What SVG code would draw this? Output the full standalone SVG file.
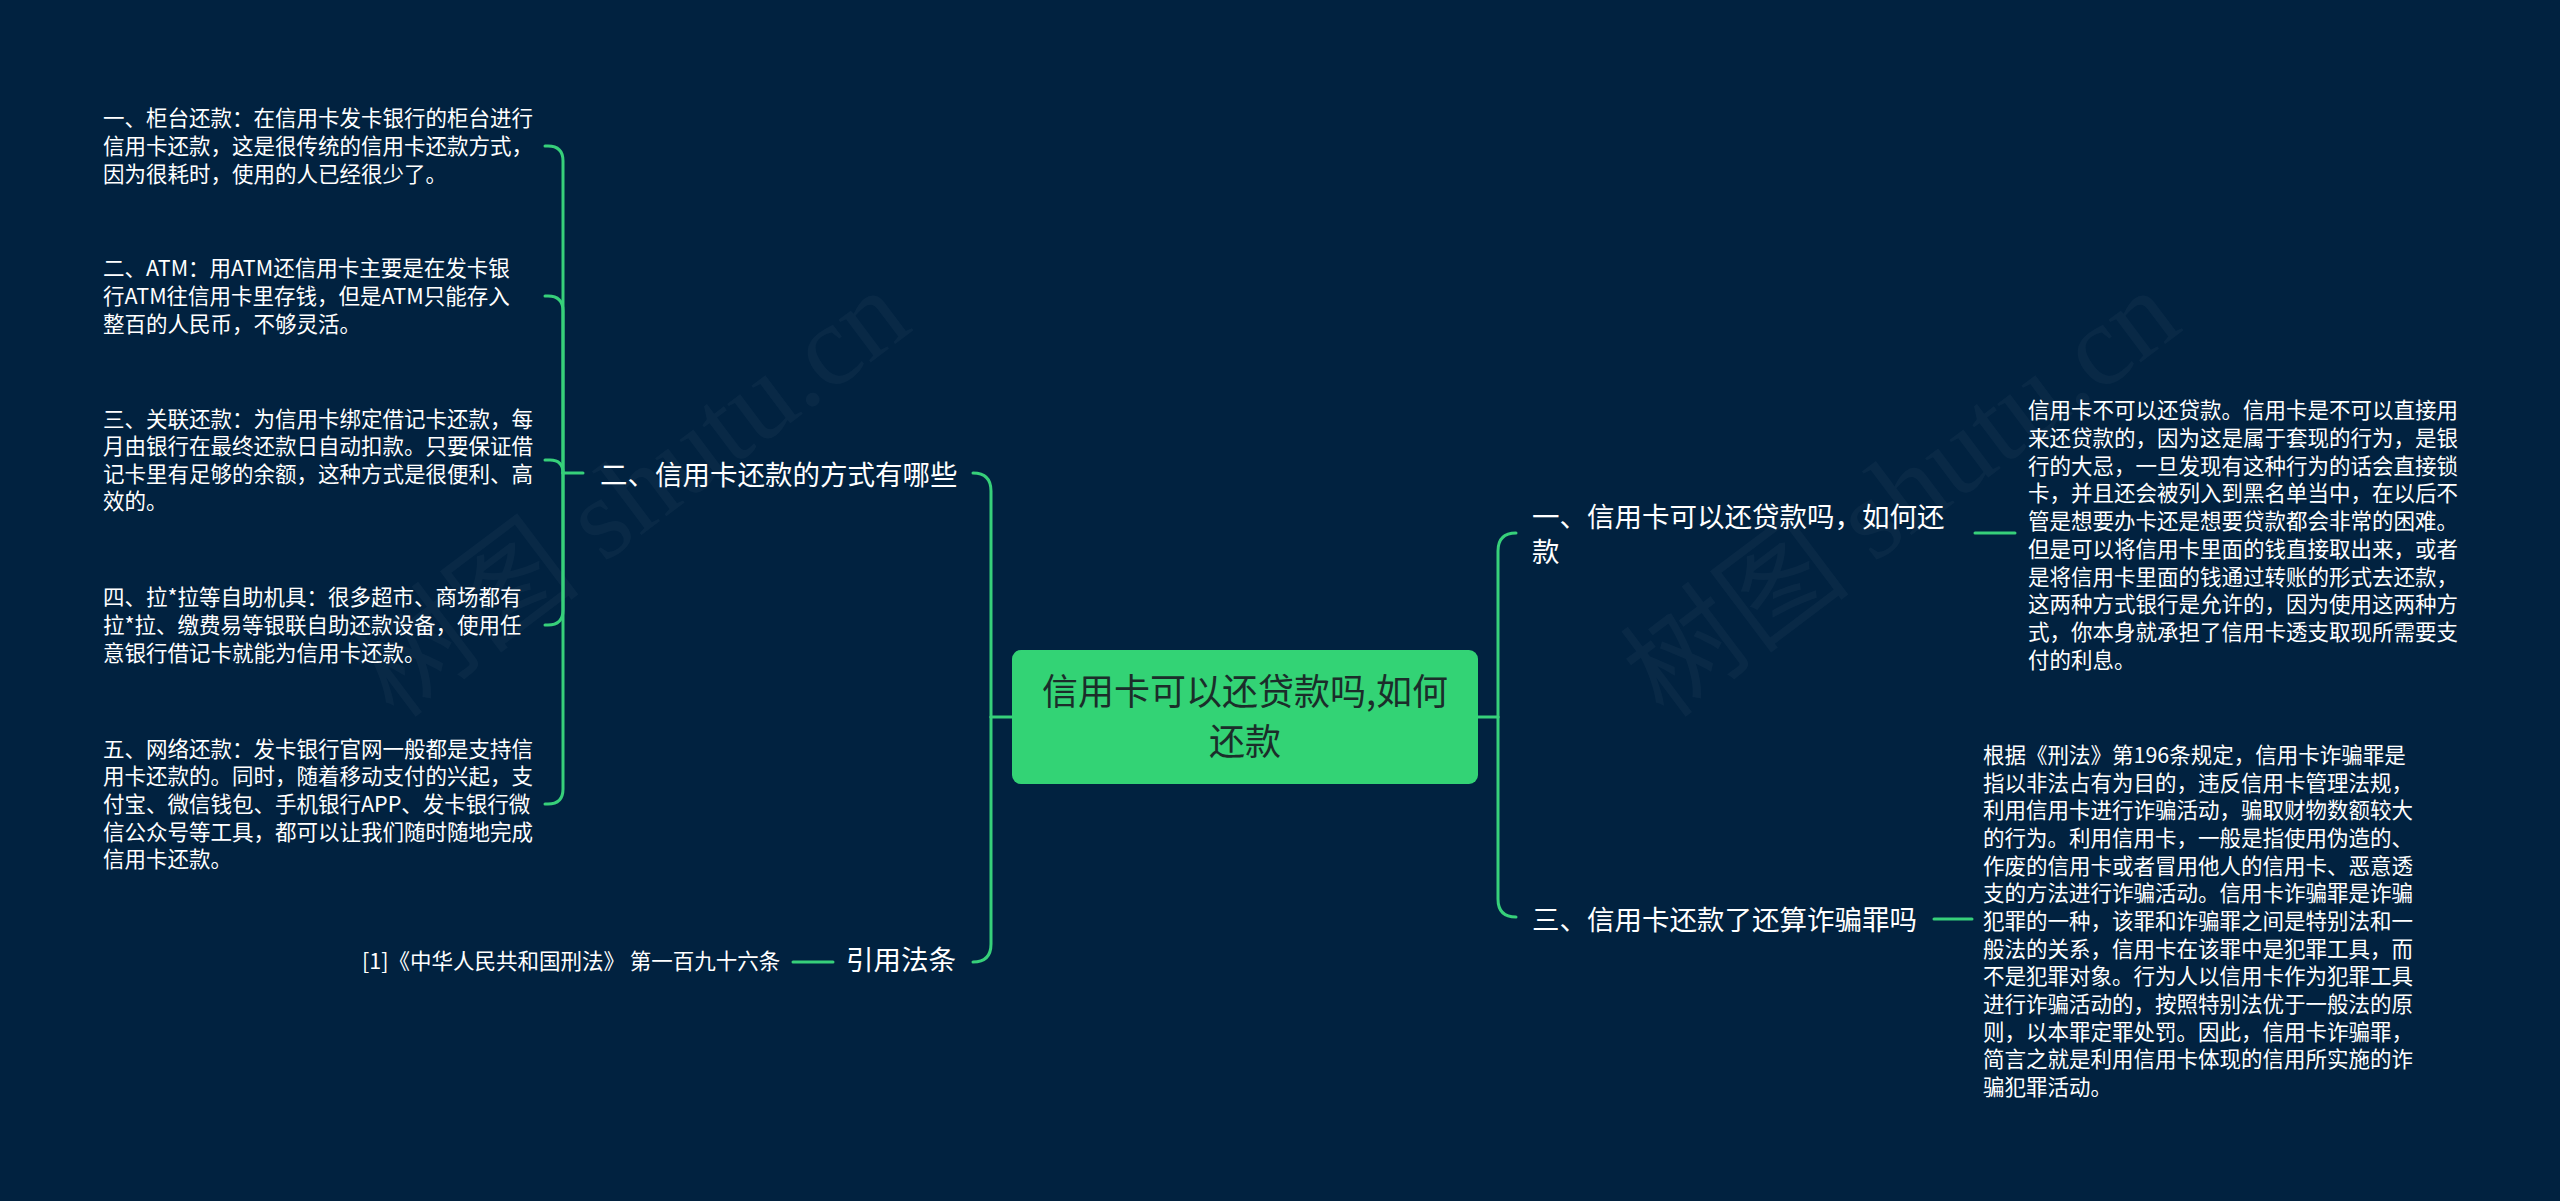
<svg xmlns="http://www.w3.org/2000/svg" width="2560" height="1201" viewBox="0 0 2560 1201">
<style>
.bg{fill:#012240}
.ln{fill:none;stroke:#37d07a;stroke-width:3;stroke-linecap:round}
.t{font-family:"Noto Sans CJK SC","Liberation Sans",sans-serif;fill:#ffffff}
.s{font-size:21.5px}
.b{font-size:27.5px}
.c{font-size:36px;fill:#1b2d2a}
.wm{font-family:"Liberation Serif","Noto Sans CJK SC",serif;font-size:116px;fill:#ffffff;fill-opacity:0.035}
</style>
<rect class="bg" x="0" y="0" width="2560" height="1201"/>
<g id="watermark">
<text class="wm" text-anchor="middle" transform="translate(655,525) rotate(-37)">树图 shutu.cn</text>
<text class="wm" text-anchor="middle" transform="translate(1925,525) rotate(-37)">树图 shutu.cn</text>
</g>
<g id="connectors">
<path class="ln" d="M1012 717 H991"/>
<path class="ln" d="M991 717 V491 Q991 473 973 473"/>
<path class="ln" d="M991 717 V944 Q991 962 973 962"/>
<path class="ln" d="M1478 717 H1498"/>
<path class="ln" d="M1498 717 V551 Q1498 533 1516 533"/>
<path class="ln" d="M1498 717 V899 Q1498 917 1516 917"/>
<path class="ln" d="M563 473 H583"/>
<path class="ln" d="M563 473 V161 Q563 146 548 146 H545"/>
<path class="ln" d="M563 473 V311 Q563 296 548 296 H545"/>
<path class="ln" d="M563 473 Q563 460 550 460 H545"/>
<path class="ln" d="M563 473 V610 Q563 625 548 625 H545"/>
<path class="ln" d="M563 473 V789 Q563 804 548 804 H545"/>
<path class="ln" d="M793 962 H833"/>
<path class="ln" d="M1975 533 H2015"/>
<path class="ln" d="M1934 919 H1972"/>
</g>
<g id="root">
<rect x="1012" y="650" width="466" height="134" rx="9" fill="#33d375"/>
<text class="t c" text-anchor="middle"><tspan x="1245" y="705">信用卡可以还贷款吗,如何</tspan><tspan x="1245" y="755">还款</tspan></text>
</g>
<g id="branch-ways">
<text class="t b" x="600" y="485">二、信用卡还款的方式有哪些</text>
</g>
<g id="way-1">
<text class="t s"><tspan x="103" y="126.4">一、柜台还款：在信用卡发卡银行的柜台进行</tspan><tspan x="103" y="154">信用卡还款，这是很传统的信用卡还款方式，</tspan><tspan x="103" y="181.6">因为很耗时，使用的人已经很少了。</tspan></text>
</g>
<g id="way-2">
<text class="t s"><tspan x="103" y="276.4">二、ATM：用ATM还信用卡主要是在发卡银</tspan><tspan x="103" y="304">行ATM往信用卡里存钱，但是ATM只能存入</tspan><tspan x="103" y="331.6">整百的人民币，不够灵活。</tspan></text>
</g>
<g id="way-3">
<text class="t s"><tspan x="103" y="426.6">三、关联还款：为信用卡绑定借记卡还款，每</tspan><tspan x="103" y="454.2">月由银行在最终还款日自动扣款。只要保证借</tspan><tspan x="103" y="481.8">记卡里有足够的余额，这种方式是很便利、高</tspan><tspan x="103" y="509.4">效的。</tspan></text>
</g>
<g id="way-4">
<text class="t s"><tspan x="103" y="605.4">四、拉*拉等自助机具：很多超市、商场都有</tspan><tspan x="103" y="633">拉*拉、缴费易等银联自助还款设备，使用任</tspan><tspan x="103" y="660.6">意银行借记卡就能为信用卡还款。</tspan></text>
</g>
<g id="way-5">
<text class="t s"><tspan x="103" y="756.8">五、网络还款：发卡银行官网一般都是支持信</tspan><tspan x="103" y="784.4">用卡还款的。同时，随着移动支付的兴起，支</tspan><tspan x="103" y="812">付宝、微信钱包、手机银行APP、发卡银行微</tspan><tspan x="103" y="839.6">信公众号等工具，都可以让我们随时随地完成</tspan><tspan x="103" y="867.2">信用卡还款。</tspan></text>
</g>
<g id="branch-law">
<text class="t b" x="846" y="970">引用法条</text>
</g>
<g id="law-1">
<text class="t s" x="362" y="969">[1]《中华人民共和国刑法》 第一百九十六条</text>
</g>
<g id="branch-q1">
<text class="t b"><tspan x="1532" y="527">一、信用卡可以还贷款吗，如何还</tspan><tspan x="1532" y="562">款</tspan></text>
</g>
<g id="answer-1">
<text class="t s"><tspan x="2028" y="418">信用卡不可以还贷款。信用卡是不可以直接用</tspan><tspan x="2028" y="445.8">来还贷款的，因为这是属于套现的行为，是银</tspan><tspan x="2028" y="473.6">行的大忌，一旦发现有这种行为的话会直接锁</tspan><tspan x="2028" y="501.3">卡，并且还会被列入到黑名单当中，在以后不</tspan><tspan x="2028" y="529.1">管是想要办卡还是想要贷款都会非常的困难。</tspan><tspan x="2028" y="556.9">但是可以将信用卡里面的钱直接取出来，或者</tspan><tspan x="2028" y="584.7">是将信用卡里面的钱通过转账的形式去还款，</tspan><tspan x="2028" y="612.4">这两种方式银行是允许的，因为使用这两种方</tspan><tspan x="2028" y="640.2">式，你本身就承担了信用卡透支取现所需要支</tspan><tspan x="2028" y="668">付的利息。</tspan></text>
</g>
<g id="branch-q3">
<text class="t b" x="1532" y="930">三、信用卡还款了还算诈骗罪吗</text>
</g>
<g id="answer-3">
<text class="t s"><tspan x="1983" y="763">根据《刑法》第196条规定，信用卡诈骗罪是</tspan><tspan x="1983" y="790.7">指以非法占有为目的，违反信用卡管理法规，</tspan><tspan x="1983" y="818.3">利用信用卡进行诈骗活动，骗取财物数额较大</tspan><tspan x="1983" y="846">的行为。利用信用卡，一般是指使用伪造的、</tspan><tspan x="1983" y="873.7">作废的信用卡或者冒用他人的信用卡、恶意透</tspan><tspan x="1983" y="901.3">支的方法进行诈骗活动。信用卡诈骗罪是诈骗</tspan><tspan x="1983" y="929">犯罪的一种，该罪和诈骗罪之间是特别法和一</tspan><tspan x="1983" y="956.7">般法的关系，信用卡在该罪中是犯罪工具，而</tspan><tspan x="1983" y="984.4">不是犯罪对象。行为人以信用卡作为犯罪工具</tspan><tspan x="1983" y="1012">进行诈骗活动的，按照特别法优于一般法的原</tspan><tspan x="1983" y="1039.7">则，以本罪定罪处罚。因此，信用卡诈骗罪，</tspan><tspan x="1983" y="1067.4">简言之就是利用信用卡体现的信用所实施的诈</tspan><tspan x="1983" y="1095">骗犯罪活动。</tspan></text>
</g>
</svg>
